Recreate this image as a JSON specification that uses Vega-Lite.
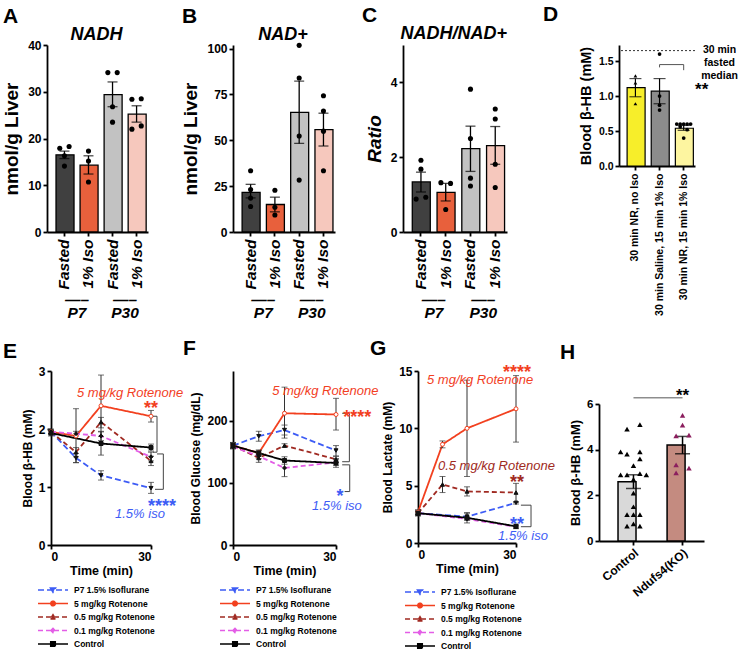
{
"$schema": "https://vega.github.io/schema/vega-lite/v6.json",
"background": "white",
"padding": {"left": 2, "top": 3, "right": 0, "bottom": 0},
"config": {
  "font": "Liberation Sans",
  "view": {"stroke": null},
  "axis": {"domainColor": "#000", "domainWidth": 1.8, "tickColor": "#000", "tickWidth": 1.8, "tickSize": 4, "labelColor": "#000", "labelFontWeight": "bold", "labelFont": "Liberation Sans", "titleFont": "Liberation Sans", "titleColor": "#000", "titleFontWeight": "bold", "grid": false, "labelPadding": 2, "titlePadding": 4, "labelOverlap": false},
  "title": {"fontSize": 21, "fontWeight": "bold", "anchor": "start", "frame": "group", "color": "#000", "font": "Liberation Sans"}
},
"datasets": {
  "barsA": [{"c":"F7","m":16.5,"lo":15.7,"hi":17.3},{"c":"I7","m":14.3,"lo":12.4,"hi":16.3},{"c":"F30","m":29.4,"lo":26.8,"hi":32.1},{"c":"I30","m":25.2,"lo":23.5,"hi":27.0}],
  "ptsA": [{"c":"F7","v":17.9,"k":"l"},{"c":"F7","v":18.3,"k":"r"},{"c":"F7","v":16.3,"k":"c"},{"c":"F7","v":14.1,"k":"c"},{"c":"I7","v":17.3,"k":"c"},{"c":"I7","v":15.2,"k":"c"},{"c":"I7","v":10.7,"k":"c"},{"c":"F30","v":34.1,"k":"l"},{"c":"F30","v":34.1,"k":"r"},{"c":"F30","v":26.8,"k":"c"},{"c":"F30","v":23.5,"k":"c"},{"c":"I30","v":28.4,"k":"l"},{"c":"I30","v":28.5,"k":"r"},{"c":"I30","v":22.0,"k":"l"},{"c":"I30","v":22.7,"k":"r"}],
  "barsB": [{"c":"F7","m":21.6,"lo":18.6,"hi":26.0},{"c":"I7","m":15.0,"lo":11.0,"hi":19.0},{"c":"F30","m":65.3,"lo":48.3,"hi":82.3},{"c":"I30","m":55.8,"lo":46.9,"hi":64.8}],
  "ptsB": [{"c":"F7","v":33.4,"k":"c"},{"c":"F7","v":23.2,"k":"c"},{"c":"F7","v":18.5,"k":"c"},{"c":"F7","v":13.9,"k":"c"},{"c":"I7","v":22.8,"k":"c"},{"c":"I7","v":13.5,"k":"c"},{"c":"I7","v":9.3,"k":"c"},{"c":"F30","v":101.8,"k":"c"},{"c":"F30","v":84.0,"k":"c"},{"c":"F30","v":52.4,"k":"c"},{"c":"F30","v":28.3,"k":"c"},{"c":"I30","v":74.3,"k":"c"},{"c":"I30","v":66.0,"k":"c"},{"c":"I30","v":55.0,"k":"c"},{"c":"I30","v":33.4,"k":"c"}],
  "barsC": [{"c":"F7","m":1.34,"lo":1.07,"hi":1.6},{"c":"I7","m":1.06,"lo":0.83,"hi":1.3},{"c":"F30","m":2.23,"lo":1.62,"hi":2.83},{"c":"I30","m":2.31,"lo":1.81,"hi":2.82}],
  "ptsC": [{"c":"F7","v":1.92,"k":"c"},{"c":"F7","v":1.68,"k":"c"},{"c":"F7","v":0.88,"k":"l"},{"c":"F7","v":0.93,"k":"r"},{"c":"I7","v":1.32,"k":"l"},{"c":"I7","v":1.30,"k":"r"},{"c":"I7","v":0.6,"k":"c"},{"c":"F30","v":3.82,"k":"c"},{"c":"F30","v":2.5,"k":"c"},{"c":"F30","v":1.44,"k":"c"},{"c":"F30","v":1.23,"k":"c"},{"c":"I30","v":3.29,"k":"c"},{"c":"I30","v":3.02,"k":"c"},{"c":"I30","v":1.81,"k":"c"},{"c":"I30","v":1.19,"k":"c"}],
  "barsD": [{"c":"a","m":1.12,"lo":0.99,"hi":1.25},{"c":"b","m":1.07,"lo":0.89,"hi":1.25},{"c":"c","m":0.54,"lo":0.51,"hi":0.58}],
  "ptsD": [{"c":"a","v":1.29,"k":"3"},{"c":"a","v":1.19,"k":"3"},{"c":"a","v":0.89,"k":"3"},{"c":"b","v":1.6,"k":"3"},{"c":"b","v":1.0,"k":"3"},{"c":"b","v":0.87,"k":"3"},{"c":"b","v":0.8,"k":"3"},{"c":"c","v":0.6,"k":"1"},{"c":"c","v":0.6,"k":"2"},{"c":"c","v":0.6,"k":"3"},{"c":"c","v":0.6,"k":"4"},{"c":"c","v":0.6,"k":"5"},{"c":"c","v":0.56,"k":"2"},{"c":"c","v":0.52,"k":"4"},{"c":"c","v":0.4,"k":"3"}],
  "barsH": [{"c":"Control","m":2.6,"lo":2.3,"hi":2.9},{"c":"Ndufs4(KO)","m":4.2,"lo":3.82,"hi":4.58}],
  "ptsH": [{"c":"Control","v":5.1,"k":"4"},{"c":"Control","v":4.9,"k":"2"},{"c":"Control","v":3.9,"k":"1"},{"c":"Control","v":3.8,"k":"2"},{"c":"Control","v":3.9,"k":"4"},{"c":"Control","v":3.6,"k":"4"},{"c":"Control","v":3.3,"k":"3"},{"c":"Control","v":2.9,"k":"1"},{"c":"Control","v":2.9,"k":"2"},{"c":"Control","v":2.95,"k":"4"},{"c":"Control","v":2.9,"k":"5"},{"c":"Control","v":2.7,"k":"3"},{"c":"Control","v":2.1,"k":"3"},{"c":"Control","v":1.5,"k":"3"},{"c":"Control","v":1.15,"k":"2"},{"c":"Control","v":1.15,"k":"3"},{"c":"Control","v":1.15,"k":"4"},{"c":"Control","v":0.75,"k":"3"},{"c":"Control","v":0.65,"k":"2"},{"c":"Control","v":0.65,"k":"4"},{"c":"Ndufs4(KO)","v":5.5,"k":"3"},{"c":"Ndufs4(KO)","v":5.08,"k":"3"},{"c":"Ndufs4(KO)","v":4.6,"k":"2"},{"c":"Ndufs4(KO)","v":4.64,"k":"4"},{"c":"Ndufs4(KO)","v":3.33,"k":"2"},{"c":"Ndufs4(KO)","v":2.98,"k":"2"},{"c":"Ndufs4(KO)","v":3.19,"k":"4"}],
  "E": [
    {"s":"P7 1.5% Isoflurane","t":0,"m":1.95,"lo":1.9,"hi":2.0},{"s":"P7 1.5% Isoflurane","t":7.5,"m":1.5,"lo":1.42,"hi":1.58},{"s":"P7 1.5% Isoflurane","t":15,"m":1.2,"lo":1.12,"hi":1.28},{"s":"P7 1.5% Isoflurane","t":30,"m":0.98,"lo":0.89,"hi":1.08},
    {"s":"5 mg/kg Rotenone","t":0,"m":1.95,"lo":1.92,"hi":1.98},{"s":"5 mg/kg Rotenone","t":7.5,"m":1.88,"lo":1.42,"hi":2.35},{"s":"5 mg/kg Rotenone","t":15,"m":2.4,"lo":1.87,"hi":2.93},{"s":"5 mg/kg Rotenone","t":30,"m":2.22,"lo":2.12,"hi":2.32},
    {"s":"0.5 mg/kg Rotenone","t":0,"m":1.95,"lo":1.92,"hi":1.98},{"s":"0.5 mg/kg Rotenone","t":7.5,"m":1.6,"lo":1.52,"hi":1.68},{"s":"0.5 mg/kg Rotenone","t":15,"m":2.12,"lo":2.02,"hi":2.2},{"s":"0.5 mg/kg Rotenone","t":30,"m":1.45,"lo":1.37,"hi":1.53},
    {"s":"0.1 mg/kg Rotenone","t":0,"m":1.95,"lo":1.92,"hi":1.98},{"s":"0.1 mg/kg Rotenone","t":7.5,"m":1.92,"lo":1.88,"hi":1.96},{"s":"0.1 mg/kg Rotenone","t":15,"m":1.88,"lo":1.8,"hi":1.96},{"s":"0.1 mg/kg Rotenone","t":30,"m":1.52,"lo":1.45,"hi":1.6},
    {"s":"Control","t":0,"m":1.93,"lo":1.88,"hi":1.98},{"s":"Control","t":15,"m":1.75,"lo":1.55,"hi":1.95},{"s":"Control","t":30,"m":1.68,"lo":1.62,"hi":1.74}],
  "F": [
    {"s":"P7 1.5% Isoflurane","t":0,"m":160,"lo":155,"hi":165},{"s":"P7 1.5% Isoflurane","t":7.5,"m":175,"lo":167,"hi":183},{"s":"P7 1.5% Isoflurane","t":15,"m":185,"lo":177,"hi":193},{"s":"P7 1.5% Isoflurane","t":30,"m":152,"lo":143,"hi":160},
    {"s":"5 mg/kg Rotenone","t":0,"m":160,"lo":156,"hi":164},{"s":"5 mg/kg Rotenone","t":7.5,"m":148,"lo":143,"hi":153},{"s":"5 mg/kg Rotenone","t":15,"m":212,"lo":172,"hi":254},{"s":"5 mg/kg Rotenone","t":30,"m":210,"lo":185,"hi":236},
    {"s":"0.5 mg/kg Rotenone","t":0,"m":160,"lo":157,"hi":163},{"s":"0.5 mg/kg Rotenone","t":7.5,"m":140,"lo":133,"hi":147},{"s":"0.5 mg/kg Rotenone","t":15,"m":160,"lo":157,"hi":163},{"s":"0.5 mg/kg Rotenone","t":30,"m":138,"lo":133,"hi":143},
    {"s":"0.1 mg/kg Rotenone","t":0,"m":158,"lo":155,"hi":161},{"s":"0.1 mg/kg Rotenone","t":7.5,"m":143,"lo":139,"hi":147},{"s":"0.1 mg/kg Rotenone","t":15,"m":124,"lo":110,"hi":136},{"s":"0.1 mg/kg Rotenone","t":30,"m":133,"lo":128,"hi":138},
    {"s":"Control","t":0,"m":160,"lo":155,"hi":165},{"s":"Control","t":7.5,"m":148,"lo":144,"hi":152},{"s":"Control","t":15,"m":136,"lo":130,"hi":142},{"s":"Control","t":30,"m":132,"lo":125,"hi":139}],
  "G": [
    {"s":"P7 1.5% Isoflurane","t":0,"m":2.6,"lo":2.35,"hi":2.85},{"s":"P7 1.5% Isoflurane","t":15,"m":2.3,"lo":2.0,"hi":2.6},{"s":"P7 1.5% Isoflurane","t":30,"m":3.5,"lo":3.4,"hi":3.6},
    {"s":"5 mg/kg Rotenone","t":0,"m":2.7,"lo":2.5,"hi":2.9},{"s":"5 mg/kg Rotenone","t":7.5,"m":8.6,"lo":8.3,"hi":8.9},{"s":"5 mg/kg Rotenone","t":15,"m":10.0,"lo":5.8,"hi":14.2},{"s":"5 mg/kg Rotenone","t":30,"m":11.7,"lo":8.8,"hi":14.6},
    {"s":"0.5 mg/kg Rotenone","t":0,"m":2.6,"lo":2.45,"hi":2.75},{"s":"0.5 mg/kg Rotenone","t":7.5,"m":5.1,"lo":4.4,"hi":5.8},{"s":"0.5 mg/kg Rotenone","t":15,"m":4.5,"lo":4.1,"hi":4.9},{"s":"0.5 mg/kg Rotenone","t":30,"m":4.4,"lo":3.55,"hi":5.2},
    {"s":"0.1 mg/kg Rotenone","t":0,"m":2.6,"lo":2.5,"hi":2.7},{"s":"0.1 mg/kg Rotenone","t":15,"m":2.1,"lo":2.0,"hi":2.2},{"s":"0.1 mg/kg Rotenone","t":30,"m":1.4,"lo":1.3,"hi":1.5},
    {"s":"Control","t":0,"m":2.6,"lo":2.4,"hi":2.8},{"s":"Control","t":15,"m":2.2,"lo":1.75,"hi":2.65},{"s":"Control","t":30,"m":1.45,"lo":1.25,"hi":1.65}],
  "brE": [{"b":1,"o":1,"t":30.6,"y":2.22},{"b":1,"o":2,"t":31.8,"y":2.22},{"b":1,"o":3,"t":31.8,"y":1.6},{"b":1,"o":4,"t":30.6,"y":1.6},{"b":2,"o":1,"t":31.8,"y":1.57},{"b":2,"o":2,"t":33.7,"y":1.57},{"b":2,"o":3,"t":33.7,"y":0.96},{"b":2,"o":4,"t":31.2,"y":0.96}],
  "brF": [{"b":1,"o":1,"t":31.8,"y":212},{"b":1,"o":2,"t":33.9,"y":212},{"b":1,"o":3,"t":33.9,"y":134},{"b":1,"o":4,"t":31.8,"y":134},{"b":2,"o":1,"t":31.8,"y":129},{"b":2,"o":2,"t":34.0,"y":129},{"b":2,"o":3,"t":34.0,"y":86},{"b":2,"o":4,"t":32.5,"y":86}],
  "brG": [{"b":1,"o":1,"t":31.5,"y":3.3},{"b":1,"o":2,"t":34.6,"y":3.3},{"b":1,"o":3,"t":34.6,"y":1.42},{"b":1,"o":4,"t":31.5,"y":1.42}],
  "nmE": [{"s":"5 mg/kg Rotenone","t":7.8,"y":2.62,"txt":"5 mg/kg Rotenone"},{"s":"P7 1.5% Isoflurane","t":19.2,"y":0.54,"txt":"1.5% iso"}],
  "stE": [{"s":"5 mg/kg Rotenone","t":30,"y":2.34,"txt":"**"},{"s":"P7 1.5% Isoflurane","t":33.3,"y":0.66,"txt":"****"}],
  "nmF": [{"s":"5 mg/kg Rotenone","t":11.4,"y":248,"txt":"5 mg/kg Rotenone"},{"s":"P7 1.5% Isoflurane","t":23,"y":63,"txt":"1.5% iso"}],
  "stF": [{"s":"5 mg/kg Rotenone","t":36.2,"y":205,"txt":"****"},{"s":"P7 1.5% Isoflurane","t":31.2,"y":77,"txt":"*"}],
  "nmG": [{"s":"5 mg/kg Rotenone","t":2.75,"y":14.2,"txt":"5 mg/kg Rotenone"},{"s":"0.5 mg/kg Rotenone","t":6.1,"y":6.7,"txt":"0.5 mg/kg Rotenone"},{"s":"P7 1.5% Isoflurane","t":24.5,"y":0.6,"txt":"1.5% iso"}],
  "stG": [{"s":"5 mg/kg Rotenone","t":30.3,"y":14.8,"txt":"****"},{"s":"0.5 mg/kg Rotenone","t":30.3,"y":5.2,"txt":"**"},{"s":"P7 1.5% Isoflurane","t":30.3,"y":1.57,"txt":"**"}]
},
"bounds": "full",
"spacing": 17,
"resolve": {"scale": {"x": "independent", "y": "independent", "color": "independent", "fill": "independent", "shape": "independent", "strokeDash": "independent", "xOffset": "independent"}},
"vconcat": [
 {
  "bounds": "flush",
  "spacing": 0,
  "resolve": {"scale": {"x": "independent", "y": "independent", "fill": "independent", "shape": "independent", "xOffset": "independent"}},
  "hconcat": [
  {
    "width": 101, "height": 187,
    "title": {"text": "A", "dx": -44, "offset": -1},
    "layer": [
      {"layer": [
        {"data": {"name": "barsA"}, "mark": {"type": "bar", "stroke": "#000", "strokeWidth": 1.3},
         "encoding": {
           "x": {"field": "c", "type": "nominal", "scale": {"domain": ["F7","I7","F30","I30"], "paddingInner": 0.3, "paddingOuter": 0.25, "align": 0.75}, "axis": {"title": null, "orient": "bottom", "labelAngle": -90, "labelExpr": "datum.value[0] == 'F' ? 'Fasted' : '1% Iso'", "labelFontSize": 15.5, "labelFontStyle": "italic", "labelPadding": 3}},
           "y": {"field": "m", "type": "quantitative", "title": "nmol/g Liver", "scale": {"domain": [0, 40], "nice": false}, "axis": {"titleFontSize": 19, "titlePadding": 6, "values": [0,10,20,30,40], "labelFontSize": 12}},
           "fill": {"field": "c", "type": "nominal", "scale": {"domain": ["F7","I7","F30","I30"], "range": ["#404040","#e8603c","#c2c2c2","#f6c8bd"]}, "legend": null}}},
        {"data": {"name": "barsA"}, "mark": {"type": "errorbar", "color": "#000", "ticks": {"size": 10}, "thickness": 1.3},
         "encoding": {"x": {"field": "c", "type": "nominal"}, "y": {"field": "lo", "type": "quantitative", "title": "nmol/g Liver"}, "y2": {"field": "hi"}}},
        {"data": {"name": "ptsA"}, "mark": {"type": "circle", "color": "#000", "size": 26, "opacity": 1},
         "encoding": {"x": {"field": "c", "type": "nominal"}, "xOffset": {"field": "k", "type": "nominal", "scale": {"type": "point", "domain": ["l","c","r"], "padding": 0.8}}, "y": {"field": "v", "type": "quantitative", "title": "nmol/g Liver"}}},
        {"data": {"values": [{"t": "NADH"}]}, "mark": {"type": "text", "fontSize": 18, "fontWeight": "bold", "fontStyle": "italic", "dx": 8, "color": "#000"},
         "encoding": {"x": {"datum": "I7"}, "y": {"datum": 42.2, "title": "nmol/g Liver"}, "text": {"field": "t"}}}
      ]},
      {"data": {"values": [{"g": "P7"}, {"g": "P30"}]}, "mark": {"type": "point", "opacity": 0},
       "encoding": {"x": {"field": "g", "type": "nominal", "sort": ["P7","P30"], "scale": {"type": "point", "padding": 0.552, "align": 0.557}, "axis": {"orient": "bottom", "title": null, "offset": 60, "domain": false, "ticks": false, "labelPadding": 0, "labelAngle": 0, "labelFontSize": 15.5, "labelFontStyle": "italic", "labelBaseline": "top", "labelLineHeight": 13, "labelExpr": "['—–', datum.label]"}}}}
    ],
    "resolve": {"scale": {"x": "independent"}}
  },
  {"width": 85, "height": 10, "data": {"values": [{}]}, "mark": {"type": "point", "opacity": 0}, "encoding": {}},
  {
    "width": 102, "height": 187,
    "title": {"text": "B", "dx": -51, "offset": -1},
    "layer": [
      {"layer": [
        {"data": {"name": "barsB"}, "mark": {"type": "bar", "stroke": "#000", "strokeWidth": 1.3},
         "encoding": {
           "x": {"field": "c", "type": "nominal", "scale": {"domain": ["F7","I7","F30","I30"], "paddingInner": 0.3, "paddingOuter": 0.25, "align": 0.75}, "axis": {"title": null, "orient": "bottom", "labelAngle": -90, "labelExpr": "datum.value[0] == 'F' ? 'Fasted' : '1% Iso'", "labelFontSize": 15.5, "labelFontStyle": "italic", "labelPadding": 3}},
           "y": {"field": "m", "type": "quantitative", "title": "nmol/g Liver", "scale": {"domain": [0, 102], "nice": false}, "axis": {"titleFontSize": 19, "titlePadding": 6, "values": [0,25,50,75,100], "labelFontSize": 12}},
           "fill": {"field": "c", "type": "nominal", "scale": {"domain": ["F7","I7","F30","I30"], "range": ["#404040","#e8603c","#c2c2c2","#f6c8bd"]}, "legend": null}}},
        {"data": {"name": "barsB"}, "mark": {"type": "errorbar", "color": "#000", "ticks": {"size": 10}, "thickness": 1.3},
         "encoding": {"x": {"field": "c", "type": "nominal"}, "y": {"field": "lo", "type": "quantitative", "title": "nmol/g Liver"}, "y2": {"field": "hi"}}},
        {"data": {"name": "ptsB"}, "mark": {"type": "circle", "color": "#000", "size": 26, "opacity": 1},
         "encoding": {"x": {"field": "c", "type": "nominal"}, "xOffset": {"field": "k", "type": "nominal", "scale": {"type": "point", "domain": ["l","c","r"], "padding": 0.8}}, "y": {"field": "v", "type": "quantitative", "title": "nmol/g Liver"}}},
        {"data": {"values": [{"t": "NAD+"}]}, "mark": {"type": "text", "fontSize": 18, "fontWeight": "bold", "fontStyle": "italic", "dx": 8, "color": "#000"},
         "encoding": {"x": {"datum": "I7"}, "y": {"datum": 107.5, "title": "nmol/g Liver"}, "text": {"field": "t"}}}
      ]},
      {"data": {"values": [{"g": "P7"}, {"g": "P30"}]}, "mark": {"type": "point", "opacity": 0},
       "encoding": {"x": {"field": "g", "type": "nominal", "sort": ["P7","P30"], "scale": {"type": "point", "padding": 0.552, "align": 0.557}, "axis": {"orient": "bottom", "title": null, "offset": 60, "domain": false, "ticks": false, "labelPadding": 0, "labelAngle": 0, "labelFontSize": 15.5, "labelFontStyle": "italic", "labelBaseline": "top", "labelLineHeight": 13, "labelExpr": "['—–', datum.label]"}}}}
    ],
    "resolve": {"scale": {"x": "independent"}}
  },
  {"width": 68, "height": 10, "data": {"values": [{}]}, "mark": {"type": "point", "opacity": 0}, "encoding": {}},
  {
    "width": 104, "height": 187,
    "title": {"text": "C", "dx": -41, "offset": -1},
    "layer": [
      {"layer": [
        {"data": {"name": "barsC"}, "mark": {"type": "bar", "stroke": "#000", "strokeWidth": 1.3},
         "encoding": {
           "x": {"field": "c", "type": "nominal", "scale": {"domain": ["F7","I7","F30","I30"], "paddingInner": 0.3, "paddingOuter": 0.25, "align": 0.75}, "axis": {"title": null, "orient": "bottom", "labelAngle": -90, "labelExpr": "datum.value[0] == 'F' ? 'Fasted' : '1% Iso'", "labelFontSize": 15.5, "labelFontStyle": "italic", "labelPadding": 3}},
           "y": {"field": "m", "type": "quantitative", "title": "Ratio", "scale": {"domain": [0, 5], "nice": false}, "axis": {"titleFontSize": 19, "titleFontStyle": "italic", "titlePadding": 6, "values": [0,1,2,3,4,5], "labelFontSize": 12}},
           "fill": {"field": "c", "type": "nominal", "scale": {"domain": ["F7","I7","F30","I30"], "range": ["#404040","#e8603c","#c2c2c2","#f6c8bd"]}, "legend": null}}},
        {"data": {"name": "barsC"}, "mark": {"type": "errorbar", "color": "#000", "ticks": {"size": 10}, "thickness": 1.3},
         "encoding": {"x": {"field": "c", "type": "nominal"}, "y": {"field": "lo", "type": "quantitative", "title": "Ratio"}, "y2": {"field": "hi"}}},
        {"data": {"name": "ptsC"}, "mark": {"type": "circle", "color": "#000", "size": 26, "opacity": 1},
         "encoding": {"x": {"field": "c", "type": "nominal"}, "xOffset": {"field": "k", "type": "nominal", "scale": {"type": "point", "domain": ["l","c","r"], "padding": 0.8}}, "y": {"field": "v", "type": "quantitative", "title": "Ratio"}}},
        {"data": {"values": [{"t": "NADH/NAD+"}]}, "mark": {"type": "text", "fontSize": 18, "fontWeight": "bold", "fontStyle": "italic", "dx": 8, "color": "#000"},
         "encoding": {"x": {"datum": "I7"}, "y": {"datum": 5.3, "title": "Ratio"}, "text": {"field": "t"}}}
      ]},
      {"data": {"values": [{"g": "P7"}, {"g": "P30"}]}, "mark": {"type": "point", "opacity": 0},
       "encoding": {"x": {"field": "g", "type": "nominal", "sort": ["P7","P30"], "scale": {"type": "point", "padding": 0.552, "align": 0.557}, "axis": {"orient": "bottom", "title": null, "offset": 60, "domain": false, "ticks": false, "labelPadding": 0, "labelAngle": 0, "labelFontSize": 15.5, "labelFontStyle": "italic", "labelBaseline": "top", "labelLineHeight": 13, "labelExpr": "['—–', datum.label]"}}}}
    ],
    "resolve": {"scale": {"x": "independent"}}
  },
  {"width": 112, "height": 10, "data": {"values": [{}]}, "mark": {"type": "point", "opacity": 0}, "encoding": {}},
  {
    "width": 76, "height": 121,
    "title": {"text": "D", "dx": -76, "offset": 20},
    "layer": [
      {"layer": [
        {"data": {"name": "barsD"}, "mark": {"type": "bar", "stroke": "#000", "strokeWidth": 1.2},
         "encoding": {
           "x": {"field": "c", "type": "nominal", "scale": {"domain": ["a","b","c"], "paddingInner": 0.31, "paddingOuter": 0.23, "align": 0.73}, "axis": {"title": null, "labelAngle": -90, "labelFontSize": 10.5, "labelPadding": 3, "labelExpr": "datum.value == 'a' ? '30 min NR, no Iso' : datum.value == 'b' ? '30 min Saline, 15 min 1% Iso' : '30 min NR, 15 min 1% Iso'"}},
           "y": {"field": "m", "type": "quantitative", "title": "Blood β-HB (mM)", "scale": {"domain": [0, 1.73], "nice": false}, "axis": {"titleFontSize": 14.5, "titlePadding": 5, "values": [0, 0.5, 1, 1.5], "format": ".1f", "labelFontSize": 10.5}},
           "fill": {"field": "c", "type": "nominal", "scale": {"domain": ["a","b","c"], "range": ["#f7ee2a","#8c8c8c","#fdf5a0"]}, "legend": null}}},
        {"data": {"name": "barsD"}, "mark": {"type": "errorbar", "color": "#000", "ticks": {"size": 12}, "thickness": 1.2},
         "encoding": {"x": {"field": "c", "type": "nominal"}, "y": {"field": "lo", "type": "quantitative", "title": "Blood β-HB (mM)"}, "y2": {"field": "hi"}}},
        {"data": {"name": "ptsD"}, "mark": {"type": "point", "filled": true, "color": "#000", "size": 14, "opacity": 1},
         "encoding": {"x": {"field": "c", "type": "nominal"}, "xOffset": {"field": "k", "type": "nominal", "scale": {"type": "point", "domain": ["1","2","3","4","5"], "padding": 0.4}}, "y": {"field": "v", "type": "quantitative", "title": "Blood β-HB (mM)"},
           "shape": {"condition": {"test": "datum.c == 'a'", "value": "triangle-up"}, "value": "circle"}}},
        {"data": {"values": [{}]}, "mark": {"type": "rule", "color": "#555", "strokeWidth": 1},
         "encoding": {"x": {"datum": "b"}, "x2": {"datum": "c"}, "y": {"datum": 1.45, "title": "Blood β-HB (mM)"}}},
        {"data": {"values": [{}]}, "mark": {"type": "rule", "color": "#555", "strokeWidth": 1},
         "encoding": {"x": {"datum": "b"}, "y": {"datum": 1.45, "title": "Blood β-HB (mM)"}, "y2": {"datum": 1.41}}},
        {"data": {"values": [{}]}, "mark": {"type": "rule", "color": "#555", "strokeWidth": 1},
         "encoding": {"x": {"datum": "c"}, "y": {"datum": 1.45, "title": "Blood β-HB (mM)"}, "y2": {"datum": 1.37}}},
        {"data": {"values": [{"t": "**"}]}, "mark": {"type": "text", "fontSize": 17, "fontWeight": "bold", "dx": 18, "color": "#000"},
         "encoding": {"x": {"datum": "c"}, "y": {"datum": 1.09, "title": "Blood β-HB (mM)"}, "text": {"field": "t"}}}
      ]},
      {"data": {"values": [{}]}, "mark": {"type": "rule", "color": "#333", "strokeWidth": 1, "strokeDash": [2, 2]},
       "encoding": {"y": {"datum": 1.65, "type": "quantitative", "scale": {"domain": [0, 1.73], "nice": false}, "axis": {"orient": "right", "title": null, "domain": false, "ticks": false, "values": [1.66], "labelExpr": "['30 min', 'fasted', 'median']", "labelAlign": "center", "labelBaseline": "middle", "labelPadding": 24, "labelFontSize": 10.5, "labelLineHeight": 13}}}}
    ],
    "resolve": {"scale": {"y": "independent"}, "axis": {"y": "independent"}}
  }
  ]
 },
 {
  "bounds": "flush",
  "spacing": 0,
  "resolve": {"scale": {"x": "independent", "y": "independent", "color": "independent", "fill": "independent", "shape": "independent", "strokeDash": "independent", "xOffset": "independent"}, "legend": {"color": "independent"}},
  "hconcat": [
  {"width": 4, "height": 10, "data": {"values": [{}]}, "mark": {"type": "point", "opacity": 0}, "encoding": {}},
  {
    "width": 100, "height": 174,
    "title": {"text": "E", "dx": -48, "offset": 3},
    "layer": [
      {"data": {"name": "E"}, "mark": {"type": "line", "strokeWidth": 1.8},
       "encoding": {
         "x": {"field": "t", "type": "quantitative", "title": "Time (min)", "scale": {"domain": [0, 30], "nice": false}, "axis": {"values": [0,10,20,30], "titleFontSize": 12.5, "labelFontSize": 12, "titlePadding": 2}},
         "y": {"field": "m", "type": "quantitative", "title": "Blood β-HB (mM)", "scale": {"domain": [0, 3], "nice": false}, "axis": {"values": [0,1,2,3], "format": "d", "titleFontSize": 12, "labelFontSize": 12}},
         "color": {"field": "s", "type": "nominal", "scale": {"domain": ["P7 1.5% Isoflurane","5 mg/kg Rotenone","0.5 mg/kg Rotenone","0.1 mg/kg Rotenone","Control"], "range": ["#3d5cf5","#f2401f","#a02a22","#e35de6","#000000"]},
           "legend": {"title": null, "orient": "none", "legendX": -4, "legendY": 213, "padding": 0, "symbolSize": 100, "symbolStrokeWidth": 1.6, "labelOffset": 15, "labelFontSize": 8.5, "labelFontWeight": "bold", "labelFont": "Liberation Sans", "labelColor": "#000", "rowPadding": 1.5, "labelLimit": 300,
             "encode": {"symbols": {"update": {
               "shape": {"signal": "datum.value == 'P7 1.5% Isoflurane' ? 'M-3,0H3M-0.5,-0.4H0.5L0,0.45Z' : datum.value == '5 mg/kg Rotenone' ? 'M-3,0H-0.45M0.45,0H3M-0.45,0A0.45,0.45,0,1,1,0.45,0A0.45,0.45,0,1,1,-0.45,0Z' : datum.value == '0.5 mg/kg Rotenone' ? 'M-3,0H3M-0.5,0.4H0.5L0,-0.45Z' : datum.value == '0.1 mg/kg Rotenone' ? 'M-3,0H3M-0.4,0L0,-0.4L0.4,0L0,0.4Z' : 'M-3,0H3M-0.45,-0.45H0.45V0.45H-0.45Z'"},
               "strokeDash": {"signal": "datum.value == '5 mg/kg Rotenone' || datum.value == 'Control' ? [1,0] : [5,2.5]"},
               "fill": {"signal": "datum.value == '5 mg/kg Rotenone' ? '#ffffff' : '#111111'"},
               "stroke": {"signal": "datum.value == 'P7 1.5% Isoflurane' ? '#3d5cf5' : datum.value == '5 mg/kg Rotenone' ? '#f2401f' : datum.value == '0.5 mg/kg Rotenone' ? '#a02a22' : datum.value == '0.1 mg/kg Rotenone' ? '#e35de6' : '#000000'"},
               "strokeWidth": {"value": 1.6}, "opacity": {"value": 1}}}}}},
         "strokeDash": {"field": "s", "type": "nominal", "scale": {"domain": ["P7 1.5% Isoflurane","5 mg/kg Rotenone","0.5 mg/kg Rotenone","0.1 mg/kg Rotenone","Control"], "range": [[6,3],[1,0],[5,3],[5,3],[1,0]]}, "legend": null}}},
      {"data": {"name": "E"}, "mark": {"type": "errorbar", "color": "#333", "ticks": {"size": 6}, "thickness": 1},
       "encoding": {"x": {"field": "t", "type": "quantitative", "title": "Time (min)"}, "y": {"field": "lo", "type": "quantitative", "title": "Blood β-HB (mM)"}, "y2": {"field": "hi"}}},
      {"data": {"name": "E"}, "mark": {"type": "point", "filled": true, "size": 16, "opacity": 1, "strokeWidth": 1},
       "encoding": {"x": {"field": "t", "type": "quantitative", "title": "Time (min)"}, "y": {"field": "m", "type": "quantitative", "title": "Blood β-HB (mM)"},
         "shape": {"condition": [{"test": "datum.s == 'P7 1.5% Isoflurane'", "value": "triangle-down"}, {"test": "datum.s == '5 mg/kg Rotenone'", "value": "circle"}, {"test": "datum.s == '0.5 mg/kg Rotenone'", "value": "triangle-up"}, {"test": "datum.s == '0.1 mg/kg Rotenone'", "value": "diamond"}], "value": "square"},
         "fill": {"condition": {"test": "datum.s == '5 mg/kg Rotenone'", "value": "#ffffff"}, "value": "#111111"},
         "stroke": {"condition": {"test": "datum.s == '5 mg/kg Rotenone'", "value": "#f2401f"}, "value": "#111111"}}},
      {"data": {"name": "brE"}, "mark": {"type": "line", "color": "#444", "strokeWidth": 1},
       "encoding": {"x": {"field": "t", "type": "quantitative", "title": "Time (min)", "scale": {"domain": [0, 30], "nice": false}}, "y": {"field": "y", "type": "quantitative", "title": "Blood β-HB (mM)", "scale": {"domain": [0, 3], "nice": false}}, "detail": {"field": "b", "type": "nominal"}, "order": {"field": "o", "type": "quantitative"}}},
      {"data": {"name": "nmE"}, "mark": {"type": "text", "align": "left", "baseline": "middle", "fontSize": 13, "fontStyle": "italic"},
       "encoding": {"x": {"field": "t", "type": "quantitative", "title": "Time (min)", "scale": {"domain": [0, 30], "nice": false}}, "y": {"field": "y", "type": "quantitative", "title": "Blood β-HB (mM)", "scale": {"domain": [0, 3], "nice": false}}, "text": {"field": "txt"}, "color": {"field": "s", "type": "nominal"}}},
      {"data": {"name": "stE"}, "mark": {"type": "text", "align": "center", "baseline": "middle", "fontSize": 18, "fontWeight": "bold"},
       "encoding": {"x": {"field": "t", "type": "quantitative", "title": "Time (min)", "scale": {"domain": [0, 30], "nice": false}}, "y": {"field": "y", "type": "quantitative", "title": "Blood β-HB (mM)", "scale": {"domain": [0, 3], "nice": false}}, "text": {"field": "txt"}, "color": {"field": "s", "type": "nominal"}}}
    ]
  },
  {"width": 82, "height": 10, "data": {"values": [{}]}, "mark": {"type": "point", "opacity": 0}, "encoding": {}},
  {
    "width": 103, "height": 174,
    "title": {"text": "F", "dx": -50, "offset": 12},
    "layer": [
      {"data": {"name": "F"}, "mark": {"type": "line", "strokeWidth": 1.8},
       "encoding": {
         "x": {"field": "t", "type": "quantitative", "title": "Time (min)", "scale": {"domain": [0, 30], "nice": false}, "axis": {"values": [0,10,20,30], "titleFontSize": 12.5, "labelFontSize": 12, "titlePadding": 2}},
         "y": {"field": "m", "type": "quantitative", "title": "Blood Glucose (mg/dL)", "scale": {"domain": [0, 280], "nice": false}, "axis": {"values": [0,100,200], "titleFontSize": 12, "labelFontSize": 12}},
         "color": {"field": "s", "type": "nominal", "scale": {"domain": ["P7 1.5% Isoflurane","5 mg/kg Rotenone","0.5 mg/kg Rotenone","0.1 mg/kg Rotenone","Control"], "range": ["#3d5cf5","#f2401f","#a02a22","#e35de6","#000000"]},
           "legend": {"title": null, "orient": "none", "legendX": -4, "legendY": 213, "padding": 0, "symbolSize": 100, "symbolStrokeWidth": 1.6, "labelOffset": 15, "labelFontSize": 8.5, "labelFontWeight": "bold", "labelFont": "Liberation Sans", "labelColor": "#000", "rowPadding": 1.5, "labelLimit": 300,
             "encode": {"symbols": {"update": {
               "shape": {"signal": "datum.value == 'P7 1.5% Isoflurane' ? 'M-3,0H3M-0.5,-0.4H0.5L0,0.45Z' : datum.value == '5 mg/kg Rotenone' ? 'M-3,0H-0.45M0.45,0H3M-0.45,0A0.45,0.45,0,1,1,0.45,0A0.45,0.45,0,1,1,-0.45,0Z' : datum.value == '0.5 mg/kg Rotenone' ? 'M-3,0H3M-0.5,0.4H0.5L0,-0.45Z' : datum.value == '0.1 mg/kg Rotenone' ? 'M-3,0H3M-0.4,0L0,-0.4L0.4,0L0,0.4Z' : 'M-3,0H3M-0.45,-0.45H0.45V0.45H-0.45Z'"},
               "strokeDash": {"signal": "datum.value == '5 mg/kg Rotenone' || datum.value == 'Control' ? [1,0] : [5,2.5]"},
               "fill": {"signal": "datum.value == '5 mg/kg Rotenone' ? '#ffffff' : '#111111'"},
               "stroke": {"signal": "datum.value == 'P7 1.5% Isoflurane' ? '#3d5cf5' : datum.value == '5 mg/kg Rotenone' ? '#f2401f' : datum.value == '0.5 mg/kg Rotenone' ? '#a02a22' : datum.value == '0.1 mg/kg Rotenone' ? '#e35de6' : '#000000'"},
               "strokeWidth": {"value": 1.6}, "opacity": {"value": 1}}}}}},
         "strokeDash": {"field": "s", "type": "nominal", "scale": {"domain": ["P7 1.5% Isoflurane","5 mg/kg Rotenone","0.5 mg/kg Rotenone","0.1 mg/kg Rotenone","Control"], "range": [[6,3],[1,0],[5,3],[5,3],[1,0]]}, "legend": null}}},
      {"data": {"name": "F"}, "mark": {"type": "errorbar", "color": "#333", "ticks": {"size": 6}, "thickness": 1},
       "encoding": {"x": {"field": "t", "type": "quantitative", "title": "Time (min)"}, "y": {"field": "lo", "type": "quantitative", "title": "Blood Glucose (mg/dL)"}, "y2": {"field": "hi"}}},
      {"data": {"name": "F"}, "mark": {"type": "point", "filled": true, "size": 16, "opacity": 1, "strokeWidth": 1},
       "encoding": {"x": {"field": "t", "type": "quantitative", "title": "Time (min)"}, "y": {"field": "m", "type": "quantitative", "title": "Blood Glucose (mg/dL)"},
         "shape": {"condition": [{"test": "datum.s == 'P7 1.5% Isoflurane'", "value": "triangle-down"}, {"test": "datum.s == '5 mg/kg Rotenone'", "value": "circle"}, {"test": "datum.s == '0.5 mg/kg Rotenone'", "value": "triangle-up"}, {"test": "datum.s == '0.1 mg/kg Rotenone'", "value": "diamond"}], "value": "square"},
         "fill": {"condition": {"test": "datum.s == '5 mg/kg Rotenone'", "value": "#ffffff"}, "value": "#111111"},
         "stroke": {"condition": {"test": "datum.s == '5 mg/kg Rotenone'", "value": "#f2401f"}, "value": "#111111"}}},
      {"data": {"name": "brF"}, "mark": {"type": "line", "color": "#444", "strokeWidth": 1},
       "encoding": {"x": {"field": "t", "type": "quantitative", "title": "Time (min)", "scale": {"domain": [0, 30], "nice": false}}, "y": {"field": "y", "type": "quantitative", "title": "Blood Glucose (mg/dL)", "scale": {"domain": [0, 280], "nice": false}}, "detail": {"field": "b", "type": "nominal"}, "order": {"field": "o", "type": "quantitative"}}},
      {"data": {"name": "nmF"}, "mark": {"type": "text", "align": "left", "baseline": "middle", "fontSize": 13, "fontStyle": "italic"},
       "encoding": {"x": {"field": "t", "type": "quantitative", "title": "Time (min)", "scale": {"domain": [0, 30], "nice": false}}, "y": {"field": "y", "type": "quantitative", "title": "Blood Glucose (mg/dL)", "scale": {"domain": [0, 280], "nice": false}}, "text": {"field": "txt"}, "color": {"field": "s", "type": "nominal"}}},
      {"data": {"name": "stF"}, "mark": {"type": "text", "align": "center", "baseline": "middle", "fontSize": 18, "fontWeight": "bold"},
       "encoding": {"x": {"field": "t", "type": "quantitative", "title": "Time (min)", "scale": {"domain": [0, 30], "nice": false}}, "y": {"field": "y", "type": "quantitative", "title": "Blood Glucose (mg/dL)", "scale": {"domain": [0, 280], "nice": false}}, "text": {"field": "txt"}, "color": {"field": "s", "type": "nominal"}}}
    ]
  },
  {"width": 82, "height": 10, "data": {"values": [{}]}, "mark": {"type": "point", "opacity": 0}, "encoding": {}},
  {
    "width": 98, "height": 172,
    "title": {"text": "G", "dx": -48, "offset": 5},
    "layer": [
      {"data": {"name": "G"}, "mark": {"type": "line", "strokeWidth": 1.8},
       "encoding": {
         "x": {"field": "t", "type": "quantitative", "title": "Time (min)", "scale": {"domain": [0, 30], "nice": false}, "axis": {"values": [0,10,20,30], "titleFontSize": 12.5, "labelFontSize": 12, "titlePadding": 2}},
         "y": {"field": "m", "type": "quantitative", "title": "Blood Lactate (mM)", "scale": {"domain": [0, 15], "nice": false}, "axis": {"values": [0,5,10,15], "titleFontSize": 12, "labelFontSize": 12}},
         "color": {"field": "s", "type": "nominal", "scale": {"domain": ["P7 1.5% Isoflurane","5 mg/kg Rotenone","0.5 mg/kg Rotenone","0.1 mg/kg Rotenone","Control"], "range": ["#3d5cf5","#f2401f","#a02a22","#e35de6","#000000"]},
           "legend": {"title": null, "orient": "none", "legendX": -4, "legendY": 215, "padding": 0, "symbolSize": 100, "symbolStrokeWidth": 1.6, "labelOffset": 15, "labelFontSize": 8.5, "labelFontWeight": "bold", "labelFont": "Liberation Sans", "labelColor": "#000", "rowPadding": 1.5, "labelLimit": 300,
             "encode": {"symbols": {"update": {
               "shape": {"signal": "datum.value == 'P7 1.5% Isoflurane' ? 'M-3,0H3M-0.5,-0.4H0.5L0,0.45Z' : datum.value == '5 mg/kg Rotenone' ? 'M-3,0H-0.45M0.45,0H3M-0.45,0A0.45,0.45,0,1,1,0.45,0A0.45,0.45,0,1,1,-0.45,0Z' : datum.value == '0.5 mg/kg Rotenone' ? 'M-3,0H3M-0.5,0.4H0.5L0,-0.45Z' : datum.value == '0.1 mg/kg Rotenone' ? 'M-3,0H3M-0.4,0L0,-0.4L0.4,0L0,0.4Z' : 'M-3,0H3M-0.45,-0.45H0.45V0.45H-0.45Z'"},
               "strokeDash": {"signal": "datum.value == '5 mg/kg Rotenone' || datum.value == 'Control' ? [1,0] : [5,2.5]"},
               "fill": {"signal": "datum.value == '5 mg/kg Rotenone' ? '#ffffff' : '#111111'"},
               "stroke": {"signal": "datum.value == 'P7 1.5% Isoflurane' ? '#3d5cf5' : datum.value == '5 mg/kg Rotenone' ? '#f2401f' : datum.value == '0.5 mg/kg Rotenone' ? '#a02a22' : datum.value == '0.1 mg/kg Rotenone' ? '#e35de6' : '#000000'"},
               "strokeWidth": {"value": 1.6}, "opacity": {"value": 1}}}}}},
         "strokeDash": {"field": "s", "type": "nominal", "scale": {"domain": ["P7 1.5% Isoflurane","5 mg/kg Rotenone","0.5 mg/kg Rotenone","0.1 mg/kg Rotenone","Control"], "range": [[6,3],[1,0],[5,3],[5,3],[1,0]]}, "legend": null}}},
      {"data": {"name": "G"}, "mark": {"type": "errorbar", "color": "#333", "ticks": {"size": 6}, "thickness": 1},
       "encoding": {"x": {"field": "t", "type": "quantitative", "title": "Time (min)"}, "y": {"field": "lo", "type": "quantitative", "title": "Blood Lactate (mM)"}, "y2": {"field": "hi"}}},
      {"data": {"name": "G"}, "mark": {"type": "point", "filled": true, "size": 16, "opacity": 1, "strokeWidth": 1},
       "encoding": {"x": {"field": "t", "type": "quantitative", "title": "Time (min)"}, "y": {"field": "m", "type": "quantitative", "title": "Blood Lactate (mM)"},
         "shape": {"condition": [{"test": "datum.s == 'P7 1.5% Isoflurane'", "value": "triangle-down"}, {"test": "datum.s == '5 mg/kg Rotenone'", "value": "circle"}, {"test": "datum.s == '0.5 mg/kg Rotenone'", "value": "triangle-up"}, {"test": "datum.s == '0.1 mg/kg Rotenone'", "value": "diamond"}], "value": "square"},
         "fill": {"condition": {"test": "datum.s == '5 mg/kg Rotenone'", "value": "#ffffff"}, "value": "#111111"},
         "stroke": {"condition": {"test": "datum.s == '5 mg/kg Rotenone'", "value": "#f2401f"}, "value": "#111111"}}},
      {"data": {"name": "brG"}, "mark": {"type": "line", "color": "#444", "strokeWidth": 1},
       "encoding": {"x": {"field": "t", "type": "quantitative", "title": "Time (min)", "scale": {"domain": [0, 30], "nice": false}}, "y": {"field": "y", "type": "quantitative", "title": "Blood Lactate (mM)", "scale": {"domain": [0, 15], "nice": false}}, "detail": {"field": "b", "type": "nominal"}, "order": {"field": "o", "type": "quantitative"}}},
      {"data": {"name": "nmG"}, "mark": {"type": "text", "align": "left", "baseline": "middle", "fontSize": 13, "fontStyle": "italic"},
       "encoding": {"x": {"field": "t", "type": "quantitative", "title": "Time (min)", "scale": {"domain": [0, 30], "nice": false}}, "y": {"field": "y", "type": "quantitative", "title": "Blood Lactate (mM)", "scale": {"domain": [0, 15], "nice": false}}, "text": {"field": "txt"}, "color": {"field": "s", "type": "nominal"}}},
      {"data": {"name": "stG"}, "mark": {"type": "text", "align": "center", "baseline": "middle", "fontSize": 18, "fontWeight": "bold"},
       "encoding": {"x": {"field": "t", "type": "quantitative", "title": "Time (min)", "scale": {"domain": [0, 30], "nice": false}}, "y": {"field": "y", "type": "quantitative", "title": "Blood Lactate (mM)", "scale": {"domain": [0, 15], "nice": false}}, "text": {"field": "txt"}, "color": {"field": "s", "type": "nominal"}}}
    ]
  },
  {"width": 83, "height": 10, "data": {"values": [{}]}, "mark": {"type": "point", "opacity": 0}, "encoding": {}},
  {
    "width": 105, "height": 170,
    "title": {"text": "H", "dx": -39, "offset": 8},
    "layer": [
      {"data": {"name": "barsH"}, "mark": {"type": "bar", "stroke": "#000", "strokeWidth": 1.5},
       "encoding": {
         "x": {"field": "c", "type": "nominal", "scale": {"domain": ["Control","Ndufs4(KO)"], "paddingInner": 0.37, "paddingOuter": 0.255, "align": 0.76}, "axis": {"title": null, "labelAngle": -40, "labelFontSize": 12, "labelPadding": 2}},
         "y": {"field": "m", "type": "quantitative", "title": "Blood β-HB (mM)", "scale": {"domain": [0, 6], "range": [170, 33], "nice": false}, "axis": {"titleFontSize": 13, "values": [0,2,4,6], "labelFontSize": 11.5}},
         "fill": {"field": "c", "type": "nominal", "scale": {"domain": ["Control","Ndufs4(KO)"], "range": ["#d9d9d9","#c48b80"]}, "legend": null}}},
      {"data": {"name": "barsH"}, "mark": {"type": "errorbar", "color": "#000", "ticks": {"size": 15}, "thickness": 1.5},
       "encoding": {"x": {"field": "c", "type": "nominal"}, "y": {"field": "lo", "type": "quantitative", "title": "Blood β-HB (mM)"}, "y2": {"field": "hi"}}},
      {"data": {"name": "ptsH"}, "mark": {"type": "point", "shape": "triangle-up", "filled": true, "size": 30, "opacity": 1},
       "encoding": {"x": {"field": "c", "type": "nominal"}, "xOffset": {"field": "k", "type": "nominal", "scale": {"type": "point", "domain": ["1","2","3","4","5"], "padding": 0.4}}, "y": {"field": "v", "type": "quantitative", "title": "Blood β-HB (mM)"},
         "color": {"field": "c", "type": "nominal", "scale": {"domain": ["Control","Ndufs4(KO)"], "range": ["#000000","#8b1e5e"]}, "legend": null}}},
      {"data": {"values": [{}]}, "mark": {"type": "rule", "color": "#555", "strokeWidth": 1},
       "encoding": {"x": {"datum": "Control"}, "x2": {"datum": "Ndufs4(KO)"}, "y": {"datum": 6.27, "title": "Blood β-HB (mM)"}}},
      {"data": {"values": [{"t": "**"}]}, "mark": {"type": "text", "fontSize": 17, "fontWeight": "bold", "color": "#000"},
       "encoding": {"x": {"datum": "Ndufs4(KO)"}, "y": {"datum": 6.35, "title": "Blood β-HB (mM)"}, "text": {"field": "t"}}}
    ]
  }
  ]
 }
]
}
